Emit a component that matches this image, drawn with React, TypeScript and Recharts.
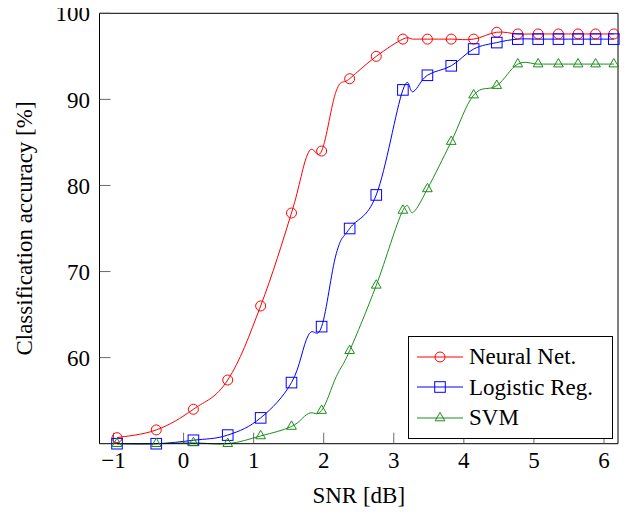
import React from "react";
import { LineChart, Line, XAxis, YAxis, Legend } from "recharts";

// SNR values (dB); a few unmarked support points shape the curves between marks
const snr = [-0.95, -0.39, 0.14, 0.63, 1.1, 1.54, 1.78, 1.97, 2.18, 2.37, 2.75, 3.13, 3.28, 3.48, 3.82, 4.14, 4.47, 4.77, 5.06, 5.35, 5.63, 5.88, 6.14];
const marked = [1, 1, 1, 1, 1, 1, 0, 1, 0, 1, 1, 1, 0, 1, 1, 1, 1, 1, 1, 1, 1, 1, 1];
const neuralNet = [50.7, 51.6, 54.0, 57.4, 66.0, 76.8, 83.8, 84.0, 91.0, 92.4, 95.0, 97.0, 97.0, 97.0, 97.0, 97.0, 97.8, 97.6, 97.6, 97.6, 97.6, 97.6, 97.6];
const logisticReg = [50.0, 50.0, 50.4, 51.0, 53.0, 57.1, 62.6, 63.6, 72.1, 75.0, 78.9, 91.1, 90.9, 92.8, 93.9, 95.85, 96.6, 97.0, 97.0, 97.0, 97.0, 97.0, 97.0];
const svmAcc = [50.0, 50.0, 50.1, 50.0, 50.9, 52.0, 53.5, 53.85, 57.8, 60.8, 68.4, 77.1, 76.9, 79.6, 85.1, 90.5, 91.6, 94.1, 94.1, 94.1, 94.1, 94.1, 94.1];

const xMajor = [-1, 0, 1, 2, 3, 4, 5, 6];
const xMinor = [0.5, 1.5, 2.5, 3.5, 4.5, 5.5];
const yMajor = [60, 70, 80, 90, 100];
const yMinor = [55, 65, 75, 85, 95];

const FONT = "'Liberation Serif', 'Times New Roman', serif";
const FS = 23;

const data = snr.map((x, i) => ({ snr: x, nn: neuralNet[i], lr: logisticReg[i], svm: svmAcc[i] }));

const series = [
  { key: "nn", name: "Neural Net.", color: "#ff0000", mark: "circle" },
  { key: "lr", name: "Logistic Reg.", color: "#0000ff", mark: "square" },
  { key: "svm", name: "SVM", color: "#1a8f1a", mark: "triangle" },
];

// cardinal spline like tikz "smooth" (tension 0.55)
const K = 0.55 / 3;
const tikzSmooth = (ctx: any) => {
  let pts: number[][] = [];
  return {
    areaStart() {},
    areaEnd() {},
    lineStart() {
      pts = [];
    },
    point(x: number, y: number) {
      pts.push([+x, +y]);
    },
    lineEnd() {
      if (!pts.length) return;
      ctx.moveTo(pts[0][0], pts[0][1]);
      for (let i = 0; i < pts.length - 1; i++) {
        const p0 = pts[i - 1] || pts[i];
        const p1 = pts[i];
        const p2 = pts[i + 1];
        const p3 = pts[i + 2] || pts[i + 1];
        ctx.bezierCurveTo(
          p1[0] + K * (p2[0] - p0[0]),
          p1[1] + K * (p2[1] - p0[1]),
          p2[0] - K * (p3[0] - p1[0]),
          p2[1] - K * (p3[1] - p1[1]),
          p2[0],
          p2[1]
        );
      }
    },
  };
};

function Marker({ cx, cy, color, mark }: { cx: number; cy: number; color: string; mark: string }) {
  if (mark === "circle") return <circle cx={cx} cy={cy} r={5} fill="none" stroke={color} strokeWidth={1} />;
  if (mark === "square") return <rect x={cx - 5.3} y={cy - 5.3} width={10.6} height={10.6} fill="none" stroke={color} strokeWidth={1} />;
  const r = 5.6;
  const pts = [
    [cx, cy - r],
    [cx - r * 0.866, cy + r / 2],
    [cx + r * 0.866, cy + r / 2],
  ];
  return <polygon points={pts.map((p) => p.join(",")).join(" ")} fill="none" stroke={color} strokeWidth={1} />;
}

function LegendBox() {
  return (
    <div
      style={{
        boxSizing: "border-box",
        width: 205,
        height: 103,
        border: "1px solid #000",
        background: "#fff",
        paddingTop: 5,
        fontFamily: FONT,
        fontSize: FS,
        color: "#000",
      }}
    >
      {series.map((s) => (
        <div key={s.key} style={{ display: "flex", alignItems: "center", height: 30.5 }}>
          <svg width={58} height={16} style={{ flex: "none" }}>
            <line x1={8} x2={54} y1={8} y2={8} stroke={s.color} strokeWidth={1} />
            <Marker cx={31} cy={8} color={s.color} mark={s.mark} />
          </svg>
          <span style={{ marginLeft: 2, lineHeight: 1 }}>{s.name}</span>
        </div>
      ))}
    </div>
  );
}

const fmt = (v: number) => (v < 0 ? `\u2212${Math.abs(v)}` : String(v));
const tickStyle = { fill: "#000", fontSize: FS, fontFamily: FONT };
const axisLine = { stroke: "#000", strokeWidth: 1 };
const tickLine = { stroke: "#444", strokeWidth: 0.8 };

export default function App() {
  return (
    <div style={{ marginTop: -8, marginLeft: -8, width: 630, height: 514 }}>
      <LineChart width={630} height={514} data={data} margin={{ top: 13.3, right: 12, bottom: 10.3, left: 0 }}>
        <XAxis
          xAxisId="x"
          dataKey="snr"
          type="number"
          domain={[-1.2, 6.2]}
          ticks={xMajor}
          interval={0}
          tickFormatter={fmt}
          tickSize={-11}
          tickMargin={19}
          height={60}
          tick={tickStyle}
          axisLine={axisLine}
          tickLine={tickLine}
          label={{ value: "SNR [dB]", position: "center", dy: 21.3, fill: "#000", fontSize: FS, fontFamily: FONT }}
        />
        <XAxis xAxisId="xbm" dataKey="snr" type="number" domain={[-1.2, 6.2]} ticks={xMinor} interval={0} orientation="bottom" mirror height={1} tick={false} tickSize={7} axisLine={false} tickLine={tickLine} />
        <XAxis xAxisId="xt" dataKey="snr" type="number" domain={[-1.2, 6.2]} ticks={xMajor} interval={0} orientation="top" mirror height={1} tick={false} tickSize={11} axisLine={axisLine} tickLine={tickLine} />
        <XAxis xAxisId="xtm" dataKey="snr" type="number" domain={[-1.2, 6.2]} ticks={xMinor} interval={0} orientation="top" mirror height={1} tick={false} tickSize={7} axisLine={false} tickLine={tickLine} />
        <YAxis
          yAxisId="y"
          type="number"
          domain={[50, 100]}
          ticks={yMajor}
          interval={0}
          width={99.5}
          tickSize={-11}
          tickMargin={20.5}
          tick={tickStyle}
          axisLine={axisLine}
          tickLine={tickLine}
          label={{ value: "Classification accuracy [%]", angle: -90, position: "center", dx: -25.75, fill: "#000", fontSize: FS, fontFamily: FONT }}
        />
        <YAxis yAxisId="ylm" type="number" domain={[50, 100]} ticks={yMinor} interval={0} orientation="left" mirror width={1} tick={false} tickSize={7} axisLine={false} tickLine={tickLine} />
        <YAxis yAxisId="yr" type="number" domain={[50, 100]} ticks={yMajor} interval={0} orientation="right" mirror width={1} tick={false} tickSize={11} axisLine={axisLine} tickLine={tickLine} />
        <YAxis yAxisId="yrm" type="number" domain={[50, 100]} ticks={yMinor} interval={0} orientation="right" mirror width={1} tick={false} tickSize={7} axisLine={false} tickLine={tickLine} />
        {series.map((s) => (
          <Line
            key={s.key}
            xAxisId="x"
            yAxisId="y"
            dataKey={s.key}
            name={s.name}
            type={tikzSmooth as any}
            stroke={s.color}
            strokeWidth={1}
            isAnimationActive={false}
            activeDot={false}
            dot={(p: any) =>
              marked[p.index] ? (
                <Marker key={`${s.key}-${p.index}`} cx={p.cx} cy={p.cy} color={s.color} mark={s.mark} />
              ) : (
                <g key={`${s.key}-${p.index}`} />
              )
            }
          />
        ))}
        <Legend
          layout="vertical"
          align="center"
          verticalAlign="middle"
          content={() => <LegendBox />}
          wrapperStyle={{ position: "absolute", left: 408, top: 335.7, width: 205, height: 103 }}
        />
      </LineChart>
    </div>
  );
}
